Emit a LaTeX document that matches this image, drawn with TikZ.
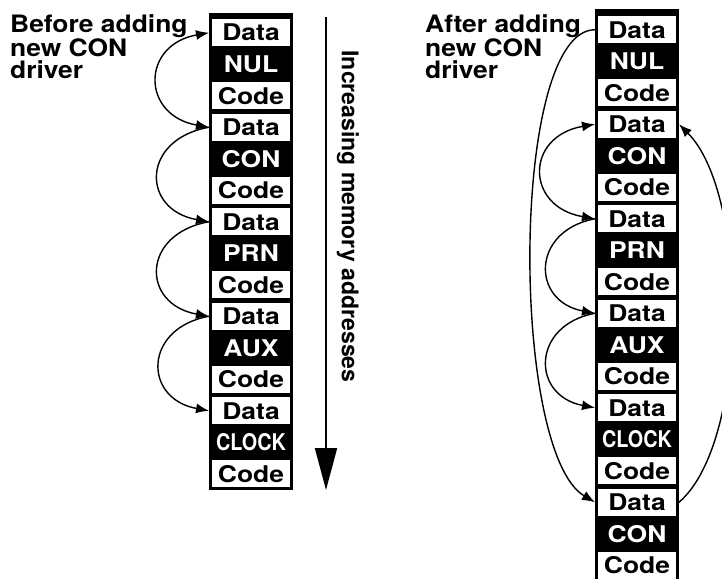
\documentclass[tikz,border=0pt]{standalone}
\usepackage{fontspec}
\setmainfont{TeX Gyre Heros}
\newfontfamily\labelfamily[FakeStretch=1.1]{TeX Gyre Heros}
\newfontfamily\cellfamily[FakeStretch=1.15]{TeX Gyre Heros}
\usetikzlibrary{arrows.meta}

\newcommand\memlabelstyle{\labelfamily\bfseries\fontsize{24}{22.5}\selectfont}
\newcommand\memtextstyle{\cellfamily\bfseries\fontsize{23}{23}\selectfont}
\newcommand\memaxisstyle{\bfseries\fontsize{23}{23}\selectfont}
\newcommand\memcellwidth{84}
\newcommand\memcellheight{31.5}
\newcommand\startmem[2]{\pgfmathparse{#1}\let\memx\pgfmathresult
  \pgfmathparse{#2}\let\memy\pgfmathresult}
\newcommand\memcellw[2]{
  \node[whitecell] (#1) at (\memx + \memcellwidth * 0.5, \memy + \memcellheight * 0.5) {#2};
  \pgfmathparse{\memy + \memcellheight}\let\memy\pgfmathresult
}
\newcommand\memcellb[2]{
  \node[blackcell] (#1) at (\memx + \memcellwidth * 0.5, \memy + \memcellheight * 0.5) {#2};
  \pgfmathparse{\memy + \memcellheight}\let\memy\pgfmathresult
}

\begin{document}
\begin{tikzpicture}[x=1pt, y=-1pt,
    >={Latex[length=13pt, width=10pt]},
    whitecell/.style={fill=white, inner sep=0pt, minimum width=78pt, minimum height=27pt,
      text height=16.5pt, text depth=0pt, outer sep=3pt, font=\memtextstyle},
    blackcell/.style={text=white, inner sep=0pt, text height=16.5pt, text depth=0pt,
      outer sep=3pt, font=\memtextstyle},
    link/.style={line width=1.4pt},
    memarrow/.style={line width=2pt, -{Triangle[length=42pt, width=22pt]}}]
  \useasboundingbox (0, 0) rectangle (722, 578);

  % before
  \node[anchor=north west, align=left, inner sep=0pt, font=\memlabelstyle] (before)
    at (10, 14) {Before adding\\new CON\\driver};
  \begin{scope}
    \fill (209, 13) rectangle ++(\memcellwidth, 477);
    \startmem{209}{17}
    \memcellw{l1}{Data}
    \memcellb{l2}{NUL}
    \memcellw{l3}{Code}
    \memcellw{l4}{Data}
    \memcellb{l5}{CON}
    \memcellw{l6}{Code}
    \memcellw{l7}{Data}
    \memcellb{l8}{PRN}
    \memcellw{l9}{Code}
    \memcellw{l10}{Data}
    \memcellb{l11}{AUX}
    \memcellw{l12}{Code}
    \memcellw{l13}{Data}
    \memcellb{l14}{\scalebox{0.75}[1]{CLOCK}}
    \memcellw{l15}{Code}
  \end{scope}
  \draw[link, <->] (l1.west) .. controls +(-68, 12) and +(-68, -12) .. (l4.west);
  \draw[link, ->] (l4.west) .. controls +(-68, 12) and +(-68, -12) .. (l7.west);
  \draw[link, ->] (l7.west) .. controls +(-68, 12) and +(-68, -12) .. (l10.west);
  \draw[link, ->] (l10.west) .. controls +(-66, 12) and +(-66, -12) .. (l13.west);

  % memory direction
  \coordinate (memtop) at (326, 17);
  \coordinate (membottom) at (326, 490);
  \draw[memarrow] (memtop) -- (membottom);
  \node[rotate=-90, font=\memaxisstyle] (memlabel) at (348, 216.5)
    {Increasing memory addresses};

  % after
  \node[anchor=north west, align=left, inner sep=0pt, font=\memlabelstyle] (after)
    at (425, 14) {After adding\\new CON\\driver};
  \begin{scope}
    \fill (595, 9) rectangle ++(\memcellwidth, 580);
    \startmem{595}{14}
    \memcellw{r1}{Data}
    \memcellb{r2}{NUL}
    \memcellw{r3}{Code}
    \memcellw{r4}{Data}
    \memcellb{r5}{CON}
    \memcellw{r6}{Code}
    \memcellw{r7}{Data}
    \memcellb{r8}{PRN}
    \memcellw{r9}{Code}
    \memcellw{r10}{Data}
    \memcellb{r11}{AUX}
    \memcellw{r12}{Code}
    \memcellw{r13}{Data}
    \memcellb{r14}{\scalebox{0.75}[1]{CLOCK}}
    \memcellw{r15}{Code}
    \memcellw{r16}{Data}
    \memcellb{r17}{CON}
    \memcellw{r18}{Code}
  \end{scope}
  \draw[link, ->] (r1.west) .. controls +(-85, 0) and +(-85, -50) .. (r16.west);
  \draw[link, ->] (r16.east) .. controls +(70, -60) and +(70, 70) .. (r4.east);
  \draw[link, <->] (r4.west) .. controls +(-70, 12) and +(-70, -12) .. (r7.west);
  \draw[link, ->] (r7.west) .. controls +(-64, 12) and +(-64, -12) .. (r10.west);
  \draw[link, ->] (r10.west) .. controls +(-64, 12) and +(-64, -12) .. (r13.west);
\end{tikzpicture}
\end{document}
